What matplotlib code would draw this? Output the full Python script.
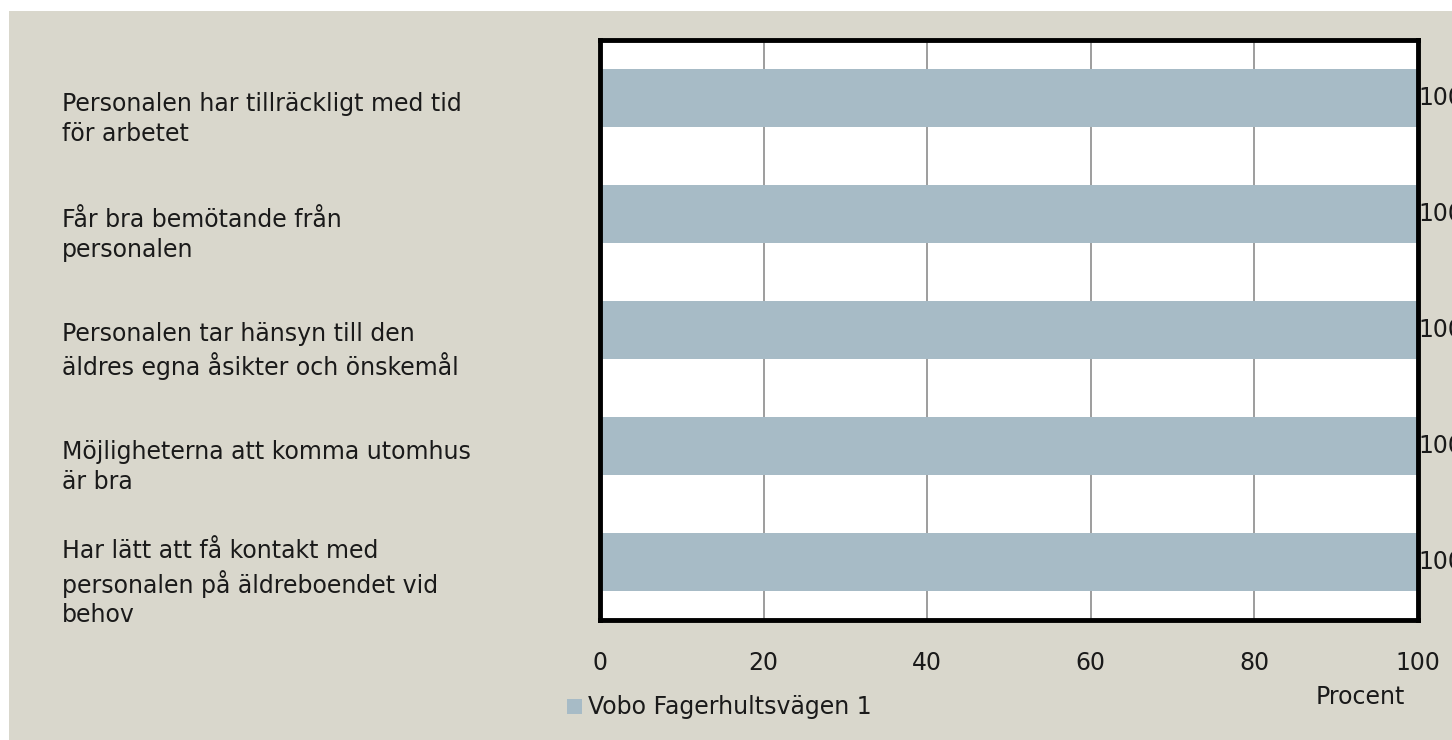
import matplotlib.pyplot as plt
from matplotlib.patches import Rectangle
from matplotlib.transforms import blended_transform_factory, offset_copy

categories = [
    "Personalen har tillräckligt med tid\nför arbetet",
    "Får bra bemötande från\npersonalen",
    "Personalen tar hänsyn till den\näldres egna åsikter och önskemål",
    "Möjligheterna att komma utomhus\när bra",
    "Har lätt att få kontakt med\npersonalen på äldreboendet vid\nbehov",
]
values = [100, 100, 100, 100, 100]
series_name = "Vobo Fagerhultsvägen 1"
x_ticks = [0, 20, 40, 60, 80, 100]

BG = "#D9D7CC"
BAR = "#A7BBC6"
INK = "#1a1a1a"
FONT = "DejaVu Sans"
FS = 17
W, H = 1452, 740

plt.rcParams["font.family"] = [FONT]

fig = plt.figure(figsize=(W / 100, H / 100), dpi=100)
fig.patch.set_facecolor("white")
fig.add_artist(Rectangle((9 / W, 0), 1, 1 - 11 / H, transform=fig.transFigure,
                         facecolor=BG, edgecolor="none", zorder=-10))

ax = fig.add_axes([600 / W, 1 - 620 / H, 818 / W, 580 / H])
ax.set_facecolor("white")

y = list(range(len(categories)))
ax.barh(y, values, height=0.5, color=BAR, zorder=2)
ax.set_xlim(0, 100)
ax.set_ylim(len(categories) - 0.5, -0.5)

ax.set_xticks(x_ticks)
ax.set_xticklabels([str(t) for t in x_ticks], fontsize=FS, color=INK)
ax.tick_params(axis="x", length=0, pad=22)
ax.set_yticks([])
ax.grid(axis="x", color="#8c8c8c", linewidth=1.2, zorder=1)

for s in ax.spines.values():
    s.set_linewidth(3.5)
    s.set_color("black")

# category labels sit left-aligned at a fixed figure x, slightly below each bar
trans = blended_transform_factory(fig.transFigure, ax.transData)
trans = offset_copy(trans, fig=fig, y=-21, units="dots")
for yi, cat in zip(y, categories):
    ax.text(62 / W, yi, cat, transform=trans, ha="left", va="center",
            fontsize=FS, color=INK, linespacing=1.3, clip_on=False)

for yi, v in zip(y, values):
    ax.text(v, yi, str(v), ha="left", va="center", fontsize=FS,
            color=INK, clip_on=False)

# legend and axis title
fig.add_artist(Rectangle((567 / W, 1 - 714 / H), 15 / W, 15 / H,
                         transform=fig.transFigure, facecolor=BAR, edgecolor="none"))
fig.text(588 / W, 1 - 707 / H, series_name, ha="left", va="center",
         fontsize=FS, color=INK)
fig.text(1360 / W, 1 - 697 / H, "Procent", ha="center", va="center",
         fontsize=FS, color=INK)

fig.savefig("out.png", dpi=100, facecolor=fig.get_facecolor())
